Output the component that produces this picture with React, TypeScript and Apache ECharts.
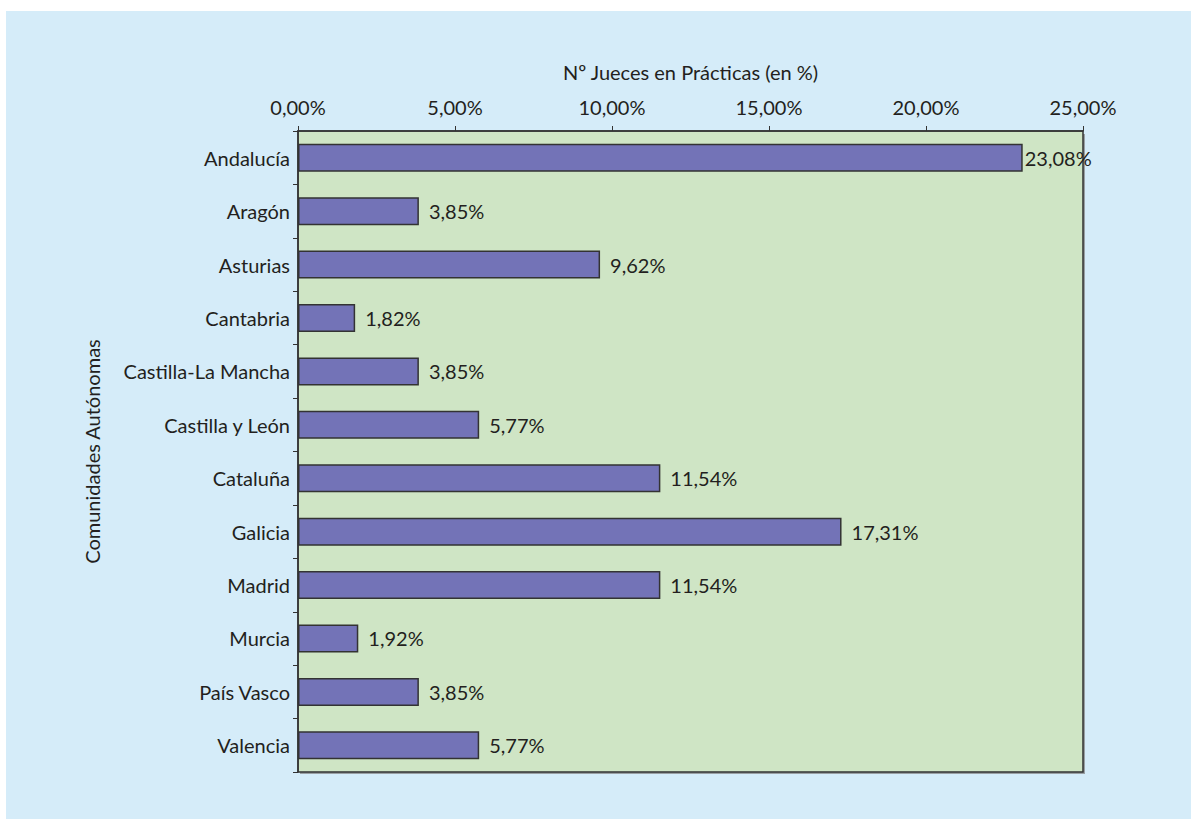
import React, { useEffect, useRef } from "react";
import * as echarts from "echarts";

const categories = [
  "Andalucía",
  "Aragón",
  "Asturias",
  "Cantabria",
  "Castilla-La Mancha",
  "Castilla y León",
  "Cataluña",
  "Galicia",
  "Madrid",
  "Murcia",
  "País Vasco",
  "Valencia",
];
const values = [23.08, 3.85, 9.62, 1.82, 3.85, 5.77, 11.54, 17.31, 11.54, 1.92, 3.85, 5.77];
const xTitle = "Nº Jueces en Prácticas (en %)";
const yTitle = "Comunidades Autónomas";

const FONT = "Lato, 'Open Sans', sans-serif";
const TEXT = "#231f20";
const FS = 20;
const fmt = (v: number) => v.toFixed(2).replace(".", ",") + "%";

export default function App() {
  const ref = useRef<HTMLDivElement>(null);
  useEffect(() => {
    if (!ref.current) return;
    const chart = echarts.init(ref.current, null, { renderer: "svg" });
    chart.setOption({
      animation: false,
      backgroundColor: "#ffffff",
      textStyle: { fontFamily: FONT, color: TEXT },
      graphic: [
        {
          type: "rect",
          z: -10,
          shape: { x: 6, y: 11, width: 1191, height: 819 },
          style: { fill: "#d5ecf9" },
        },
        {
          type: "rect",
          z: -5,
          shape: { x: 300, y: 134, width: 785, height: 640 },
          style: { fill: "#9aa0a4" },
        },
      ],
      grid: {
        left: 298,
        right: 108,
        top: 131,
        bottom: 47,
        show: true,
        backgroundColor: "#cfe5c5",
        borderColor: "#333333",
        borderWidth: 1.5,
        containLabel: false,
      },
      xAxis: {
        type: "value",
        position: "top",
        min: 0,
        max: 25,
        interval: 5,
        name: xTitle,
        nameLocation: "middle",
        nameGap: 49,
        nameTextStyle: { fontSize: FS, color: TEXT, fontFamily: FONT },
        axisLine: { show: true, lineStyle: { color: "#333333", width: 1.5 } },
        axisTick: { show: true, length: 5, inside: false, lineStyle: { color: "#333333" } },
        axisLabel: { formatter: (v: number) => fmt(v), fontSize: FS, color: TEXT, margin: 14, fontFamily: FONT },
        splitLine: { show: false },
      },
      yAxis: {
        type: "category",
        data: categories,
        inverse: true,
        name: yTitle,
        nameLocation: "middle",
        nameGap: 196,
        nameRotate: 90,
        nameTextStyle: { fontSize: FS, color: TEXT, fontFamily: FONT },
        axisLine: { show: true, lineStyle: { color: "#333333", width: 1.5 } },
        axisTick: { show: true, length: 5, alignWithLabel: false, lineStyle: { color: "#333333" } },
        axisLabel: { fontSize: FS, color: TEXT, margin: 8, fontFamily: FONT },
      },
      series: [
        {
          type: "bar",
          data: values.map((v, i) => ({
            value: v,
            label: { distance: i === 0 ? 2 : 10 },
          })),
          barWidth: 28,
          itemStyle: { color: "#7373b7", borderColor: "#333333", borderWidth: 1.5 },
          label: {
            show: true,
            position: "right",
            formatter: (p: any) => fmt(p.value),
            fontSize: FS,
            color: TEXT,
            fontFamily: FONT,
          },
        },
      ],
    });
    return () => chart.dispose();
  }, []);
  return (
    <div
      ref={ref}
      style={{ position: "absolute", left: 0, top: 0, width: 1191, height: 819 }}
    />
  );
}
